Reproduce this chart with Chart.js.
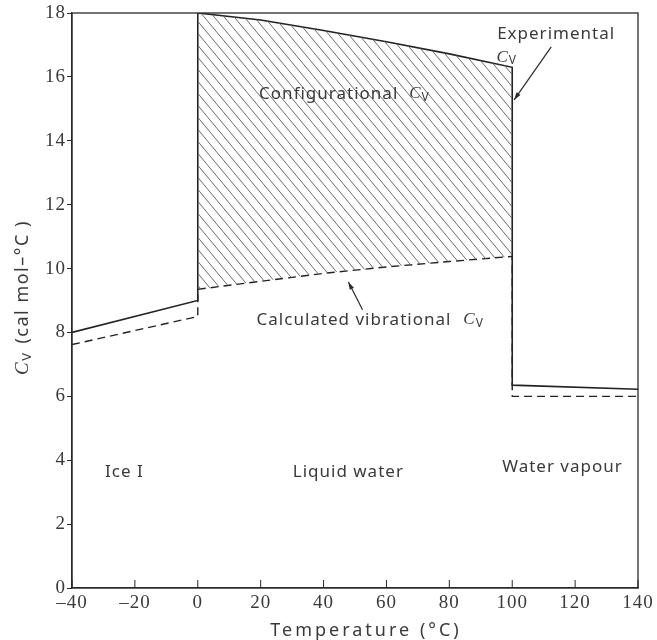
<!DOCTYPE html>
<html><head><meta charset="utf-8">
<script src="https://cdn.jsdelivr.net/npm/chart.js@4/dist/chart.umd.min.js"></script>
<style>html,body{margin:0;padding:0;background:#fff}#wrap{width:657px;height:640px}</style>
</head><body>
<div id="wrap"><canvas id="c" width="657" height="640"></canvas></div>
<script>
// ---- data (temperature in °C, Cv in cal mol-1 °C-1) ----
const iceT   = [-40, 0];
const iceExp = [8.0, 9.0];
const iceVib = [7.62, 8.5];
const liqT   = [0, 20, 40, 60, 80, 100];
const liqExp = [18.0, 17.78, 17.45, 17.1, 16.72, 16.3];
const liqVib = [9.35, 9.6, 9.85, 10.05, 10.22, 10.38];
const vapT   = [100, 140];
const vapExp = [6.35, 6.22];
const vapVib = [6.0, 6.0];
const xTickValues = [-40, -20, 0, 20, 40, 60, 80, 100, 120, 140];
const yTickValues = [0, 2, 4, 6, 8, 10, 12, 14, 16, 18];
const xTitle = 'Temperature (°C)';
const yTitleText = ' (cal mol–°C )';
const regionLabels = [
  {text: 'Ice I', T: -29.5, v: 3.63},
  {text: 'Liquid water', T: 30.2, v: 3.63},
  {text: 'Water vapour', T: 96.8, v: 3.79}
];

const pts = (xs, ys) => xs.map((x, i) => ({x, y: ys[i]}));
const expAll = [...pts(iceT, iceExp), ...pts(liqT, liqExp), ...pts(vapT, vapExp)];
const vibAll = [...pts(iceT, iceVib), ...pts(liqT, liqVib), ...pts(vapT, vapVib)];

// hatch pattern
function makeHatch() {
  const w = 10, h = 12;
  const c = document.createElement('canvas');
  c.width = w; c.height = h;
  const g = c.getContext('2d');
  g.strokeStyle = '#6a6a6a';
  g.lineWidth = 1;
  for (const dx of [-w, 0, w]) {
    g.beginPath(); g.moveTo(dx, 0); g.lineTo(dx + w, h); g.stroke();
  }
  return g.createPattern(c, 'repeat');
}
const hatch = makeHatch();

const SERIF = '"Liberation Serif", "DejaVu Serif", serif';
const SANS = '"Noto Sans", "Open Sans", sans-serif';
const TXT = '#3a3a3a';

function drawCv(ctx, x, y, size) {
  ctx.font = `italic ${size}px ${SERIF}`;
  ctx.fillText('C', x, y);
  const w = ctx.measureText('C').width;
  ctx.font = `${Math.round(size * 0.68)}px ${SANS}`;
  ctx.fillText('V', x + w, y + size * 0.22);
  return w + ctx.measureText('V').width;
}
function arrow(ctx, x1, y1, x2, y2) {
  ctx.beginPath(); ctx.moveTo(x1, y1); ctx.lineTo(x2, y2); ctx.stroke();
  const a = Math.atan2(y2 - y1, x2 - x1), L = 8, s = 0.3;
  ctx.beginPath();
  ctx.moveTo(x2, y2);
  ctx.lineTo(x2 - L * Math.cos(a - s), y2 - L * Math.sin(a - s));
  ctx.lineTo(x2 - L * Math.cos(a + s), y2 - L * Math.sin(a + s));
  ctx.closePath(); ctx.fill();
}
function spacing(ctx, v) { try { ctx.letterSpacing = v; } catch (e) {} }

const decor = {
  id: 'decor',
  beforeDraw(chart) { spacing(chart.ctx, '1px'); },
  afterDatasetsDraw(chart) {
    const {ctx, chartArea: a, scales: {x, y}} = chart;
    ctx.save();
    // frame
    ctx.strokeStyle = '#2a2a2a'; ctx.lineWidth = 1.3;
    ctx.strokeRect(a.left, a.top, a.right - a.left, a.bottom - a.top);
    // inward x tick marks
    ctx.lineWidth = 1;
    for (const t of xTickValues) {
      const px = x.getPixelForValue(t);
      ctx.beginPath(); ctx.moveTo(px, a.bottom); ctx.lineTo(px, a.bottom - 8); ctx.stroke();
    }
    ctx.fillStyle = TXT; ctx.textBaseline = 'middle'; ctx.textAlign = 'left';
    spacing(ctx, '1px');
    const P = (T, v) => [x.getPixelForValue(T), y.getPixelForValue(v)];
    const F = `17px ${SANS}`;
    // region labels
    for (const r of regionLabels) { const [px, py] = P(r.T, r.v); ctx.font = F; ctx.fillText(r.text, px, py); }
    // Configurational Cv
    let [px, py] = P(19.5, 15.47);
    ctx.font = F;
    ctx.fillText('Configurational', px, py);
    let w = ctx.measureText('Configurational').width;
    drawCv(ctx, px + w + 11, py, 17);
    // Calculated vibrational Cv
    [px, py] = P(18.7, 8.39);
    ctx.font = F;
    ctx.fillText('Calculated vibrational', px, py);
    w = ctx.measureText('Calculated vibrational').width;
    drawCv(ctx, px + w + 12, py, 17);
    // Experimental Cv
    [px, py] = P(95.2, 17.33);
    ctx.font = F;
    ctx.fillText('Experimental', px, py);
    [px, py] = P(95.0, 16.62);
    drawCv(ctx, px, py, 17);
    // arrows
    ctx.strokeStyle = '#2a2a2a'; ctx.fillStyle = '#2a2a2a'; ctx.lineWidth = 1.2;
    let [a1, b1] = P(112.4, 16.94), [a2, b2] = P(100.6, 15.28);
    arrow(ctx, a1, b1, a2, b2);
    [a1, b1] = P(52.4, 8.71); [a2, b2] = P(47.9, 9.58);
    arrow(ctx, a1, b1, a2, b2);
    // x axis title
    ctx.fillStyle = TXT;
    ctx.font = `18px ${SANS}`;
    spacing(ctx, '3px');
    ctx.textAlign = 'center';
    ctx.fillText(xTitle, (a.left + a.right) / 2 + 11, 631);
    ctx.textAlign = 'left';
    spacing(ctx, '1.5px');
    // y axis title
    ctx.translate(23, (a.top + a.bottom) / 2 - 3);
    ctx.rotate(-Math.PI / 2);
    ctx.font = `18px ${SANS}`;
    const tw = ctx.measureText(yTitleText).width;
    ctx.font = `italic 19px ${SERIF}`;
    const cw = ctx.measureText('C').width + 11;
    const start = -(tw + cw) / 2;
    drawCv(ctx, start, 0, 19);
    ctx.font = `18px ${SANS}`;
    ctx.fillText(yTitleText, start + cw, 0);
    ctx.restore();
  }
};

new Chart(document.getElementById('c'), {
  type: 'line',
  data: {
    datasets: [
      {data: pts(liqT, liqExp), borderWidth: 0, pointRadius: 0, fill: 1, backgroundColor: hatch, borderColor: 'rgba(0,0,0,0)'},
      {data: pts(liqT, liqVib), borderWidth: 0, pointRadius: 0, fill: false, borderColor: 'rgba(0,0,0,0)'},
      {data: expAll, borderColor: '#222', borderWidth: 1.6, pointRadius: 0, fill: false, tension: 0},
      {data: vibAll, borderColor: '#222', borderWidth: 1.4, borderDash: [8, 5], pointRadius: 0, fill: false, tension: 0}
    ]
  },
  options: {
    responsive: false,
    animation: false,
    events: [],
    layout: {padding: {top: 13, right: 19, left: 0, bottom: 0}},
    plugins: {legend: {display: false}, tooltip: {enabled: false}},
    scales: {
      x: {
        type: 'linear', min: -40, max: 140,
        afterBuildTicks: s => { s.ticks = xTickValues.map(v => ({value: v})); },
        afterFit: s => { s.height = 52; },
        grid: {display: false, drawTicks: false},
        border: {display: true, color: '#2a2a2a', width: 1.3},
        ticks: {padding: 4, color: TXT, font: {family: SERIF, size: 19}, maxRotation: 0,
                callback: v => String(v).replace('-', '–')},
        title: {display: false}
      },
      y: {
        type: 'linear', min: 0, max: 18,
        afterBuildTicks: s => { s.ticks = yTickValues.map(v => ({value: v})); },
        afterFit: s => { s.width = 72; },
        grid: {drawOnChartArea: false, drawTicks: true, tickLength: 5, color: '#2a2a2a'},
        border: {display: true, color: '#2a2a2a', width: 1.3},
        ticks: {padding: 1, color: TXT, font: {family: SERIF, size: 19}}
      }
    }
  },
  plugins: [decor]
});
</script>
</body></html>
